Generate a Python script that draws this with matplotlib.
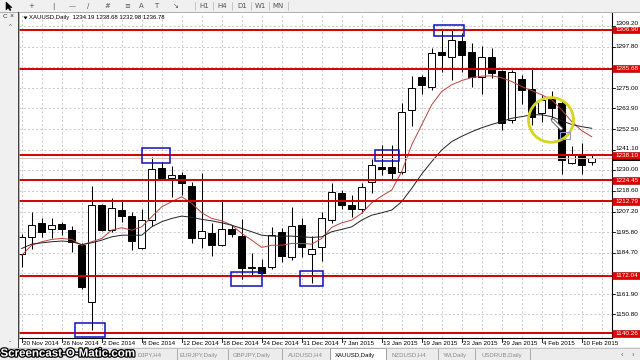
import matplotlib
matplotlib.use('Agg')
import matplotlib.pyplot as plt
from matplotlib.patches import Rectangle, Ellipse, Polygon
from matplotlib.lines import Line2D
import matplotlib.patheffects as pe

# ---------------- data ----------------
opens = [1184.0, 1193.0, 1201.0, 1197.4, 1200.3, 1197.0, 1188.7, 1157.6, 1211.0, 1197.0,
         1208.0, 1204.7, 1187.0, 1202.5, 1230.9, 1225.5, 1227.0, 1221.4, 1192.8, 1195.2,
         1188.7, 1197.5, 1193.7, 1176.0, 1176.5, 1176.8, 1195.7, 1182.3, 1199.6, 1184.0,
         1187.5, 1202.5, 1217.5, 1210.7, 1208.4, 1223.6, 1231.8, 1231.8, 1229.0, 1263.0,
         1280.8, 1275.5, 1294.7, 1292.0, 1300.6, 1294.7, 1281.0, 1292.0, 1284.5, 1257.5,
         1280.0, 1274.4, 1261.5, 1269.0, 1266.7, 1234.0, 1238.3, 1234.19]
highs = [1195.0, 1207.0, 1203.5, 1203.4, 1201.5, 1199.0, 1189.7, 1221.0, 1211.5, 1214.4,
         1213.0, 1207.0, 1208.5, 1237.0, 1234.5, 1232.0, 1229.0, 1223.5, 1228.2, 1201.0,
         1213.5, 1199.7, 1203.0, 1184.5, 1181.0, 1198.8, 1198.0, 1209.8, 1203.4, 1194.0,
         1207.0, 1223.0, 1219.0, 1216.0, 1223.0, 1236.0, 1243.8, 1243.8, 1266.7, 1281.7,
         1282.0, 1297.0, 1307.0, 1307.5, 1305.0, 1299.7, 1298.0, 1297.0, 1285.0, 1285.0,
         1282.3, 1285.4, 1271.3, 1273.6, 1268.0, 1243.2, 1245.0, 1238.68]
lows = [1176.8, 1186.5, 1193.0, 1192.4, 1194.2, 1185.0, 1164.9, 1142.0, 1196.5, 1196.0,
        1201.6, 1186.0, 1186.5, 1199.0, 1224.5, 1215.3, 1216.0, 1190.0, 1187.0, 1183.0,
        1188.0, 1193.3, 1170.4, 1172.0, 1173.0, 1175.4, 1179.6, 1180.5, 1182.3, 1168.0,
        1180.0, 1201.0, 1208.4, 1204.3, 1206.5, 1217.2, 1227.3, 1225.0, 1228.0, 1254.0,
        1271.8, 1274.0, 1284.0, 1279.5, 1284.0, 1275.8, 1272.0, 1280.5, 1252.0, 1256.0,
        1266.0, 1254.8, 1256.6, 1258.4, 1227.8, 1233.5, 1228.0, 1232.98]
closes = [1193.3, 1200.0, 1196.0, 1199.7, 1197.4, 1190.6, 1165.8, 1210.7, 1197.0, 1209.0,
          1204.7, 1191.1, 1202.5, 1230.4, 1225.8, 1227.0, 1222.7, 1192.4, 1196.4, 1188.7,
          1197.5, 1194.8, 1176.0, 1176.5, 1173.7, 1194.2, 1182.7, 1199.4, 1187.5, 1186.5,
          1203.8, 1217.7, 1210.7, 1208.4, 1220.5, 1232.8, 1230.4, 1228.2, 1262.0, 1275.0,
          1276.4, 1294.2, 1292.9, 1301.5, 1293.3, 1281.0, 1292.0, 1283.0, 1256.0, 1284.0,
          1274.0, 1259.3, 1268.5, 1264.0, 1235.5, 1238.0, 1232.8, 1236.78]

ma_fast = [1183.2, 1188.7, 1190.6, 1191.9, 1192.4, 1191.9, 1188.7, 1190.6, 1192.4, 1197.0,
           1198.3, 1197.0, 1198.8, 1204.3, 1209.8, 1212.6, 1215.3, 1211.7, 1206.5, 1203.4,
           1202.1, 1199.7, 1195.2, 1191.5, 1187.5, 1188.7, 1188.7, 1189.7, 1189.7, 1189.3,
           1192.4, 1198.5, 1201.0, 1202.5, 1206.2, 1212.0, 1215.7, 1219.0, 1229.1, 1243.8,
           1254.8, 1265.8, 1273.1, 1276.8, 1279.1, 1280.8, 1281.5, 1281.7, 1280.6, 1278.6,
           1275.8, 1273.6, 1271.3, 1268.5, 1263.0, 1256.6, 1251.6, 1248.3]
ma_slow = [1186.9, 1189.3, 1190.0, 1190.6, 1191.0, 1190.6, 1189.1, 1190.0, 1191.5, 1193.3,
           1194.2, 1194.2, 1194.2, 1198.8, 1201.6, 1203.4, 1204.7, 1204.0, 1202.9, 1202.1,
           1201.0, 1199.7, 1197.9, 1196.1, 1194.2, 1193.7, 1193.7, 1193.7, 1193.3, 1193.0,
           1193.3, 1196.1, 1197.4, 1198.8, 1202.5, 1205.2, 1206.5, 1208.0, 1212.6, 1219.9,
           1227.8, 1234.6, 1241.0, 1245.6, 1248.5, 1251.0, 1253.2, 1255.0, 1256.6, 1258.4,
           1259.3, 1260.3, 1260.3, 1259.3, 1257.0, 1255.0, 1253.8, 1252.9]

date_tick_pos = [0, 4, 8, 12, 16, 20, 24, 28, 32, 36, 40, 44, 48, 52, 56]
date_tick_labels = ["20 Nov 2014", "26 Nov 2014", "2 Dec 2014", "8 Dec 2014", "12 Dec 2014",
                    "18 Dec 2014", "24 Dec 2014", "31 Dec 2014", "7 Jan 2015", "13 Jan 2015",
                    "19 Jan 2015", "23 Jan 2015", "29 Jan 2015", "4 Feb 2015", "10 Feb 2015"]

price_grid = [1309.20, 1297.80, 1286.40, 1275.00, 1263.90, 1252.50, 1241.10, 1230.00,
              1218.60, 1207.20, 1195.80, 1184.70, 1173.30, 1161.90, 1150.80]
price_labels = [1309.20, 1297.80, 1275.00, 1263.90, 1252.50, 1241.10, 1230.00,
                1218.60, 1207.20, 1195.80, 1184.70, 1161.90, 1150.80]
red_levels = [1306.90, 1285.68, 1238.10, 1224.45, 1212.79, 1172.04, 1140.26]
bid_price = 1236.78

# blue boxes: (left bar, right bar, low price, high price)
blue_boxes = [(5.35, 8.3, 1138.5, 1146.0), (12.0, 14.85, 1233.9, 1242.0),
              (20.9, 24.05, 1166.3, 1174.2), (27.85, 30.15, 1166.3, 1174.6),
              (35.3, 37.75, 1235.0, 1241.0), (41.2, 44.25, 1303.3, 1309.8)]

title_text = "XAUUSD,Daily  1234.19 1238.68 1232.98 1236.78"
tabs = [("DJPY,H4", 138), ("EURJPY,Daily", 180), ("GBPJPY,Daily", 233),
        ("AUDUSD,H4", 288), ("XAUUSD,Daily", 335), ("NZDUSD,H4", 392),
        ("YM,Daily", 443), ("USDRUB,Daily", 482)]
active_tab = "XAUUSD,Daily"

# ---------------- layout ----------------
W, H = 640, 360
L, R, T, B = 19, 612, 13, 338
XMIN, XMAX = -0.27, 59.03
YMIN, YMAX = 1137.76, 1316.2

SANS = ['Liberation Sans', 'DejaVu Sans']
NARROW = ['Liberation Sans Narrow', 'Liberation Sans', 'DejaVu Sans']

fig = plt.figure(figsize=(6.4, 3.6), dpi=100)
fig.patch.set_facecolor('white')


def p2py(p):
    return T + (YMAX - p) / (YMAX - YMIN) * (B - T)


def i2px(i):
    return L + (i - XMIN) / (XMAX - XMIN) * (R - L)


def rect_px(x0, y0, x1, y1, **kw):
    r = Rectangle((x0 / W, 1 - y1 / H), (x1 - x0) / W, (y1 - y0) / H,
                  transform=fig.transFigure, **kw)
    fig.add_artist(r)
    return r


def line_px(x0, y0, x1, y1, **kw):
    ln = Line2D([x0 / W, x1 / W], [1 - y0 / H, 1 - y1 / H], transform=fig.transFigure, **kw)
    fig.add_artist(ln)
    return ln


def text_px(x, y, s, **kw):
    return fig.text(x / W, 1 - y / H, s, **kw)


# ---------------- chart axes ----------------
ax = fig.add_axes([L / W, 1 - B / H, (R - L) / W, (B - T) / H])
ax.set_facecolor('white')
ax.set_xlim(XMIN, XMAX)
ax.set_ylim(YMIN, YMAX)
ax.set_xticks([])
ax.set_yticks([])
for s in ['top', 'left']:
    ax.spines[s].set_visible(False)
ax.spines['right'].set_color('black')
ax.spines['right'].set_linewidth(0.8)
ax.spines['bottom'].set_color('black')
ax.spines['bottom'].set_linewidth(0.8)

grid_kw = dict(color='#c4c4c4', lw=0.6, linestyles=(0, (2.5, 2.5)), zorder=0)
ax.hlines(price_grid, XMIN, XMAX, **grid_kw)
ax.vlines(list(range(0, 60, 2)), YMIN, YMAX, **grid_kw)

# candles
bw = 0.66
for i, (o, h, l, c) in enumerate(zip(opens, highs, lows, closes)):
    ax.vlines(i, l, h, color='black', lw=0.75, zorder=2)
    lo = min(o, c)
    ht = max(abs(c - o), 0.45)
    fc = 'white' if c >= o else 'black'
    ax.add_patch(Rectangle((i - bw / 2, lo), bw, ht, facecolor=fc, edgecolor='black',
                           lw=0.7, zorder=3))

# moving averages
xs = list(range(len(ma_fast)))
ax.plot(xs, ma_fast, color='#c0413a', lw=0.7, zorder=4)
ax.plot(xs, ma_slow, color='#222222', lw=0.7, zorder=4)

# bid line and red levels
ax.axhline(bid_price, color='#dcc2c2', lw=0.7, zorder=4)
for lv in red_levels:
    ax.axhline(lv, color='#d40000', lw=1.4, zorder=5)

# blue boxes
for (x0, x1, p0, p1) in blue_boxes:
    ax.add_patch(Rectangle((x0, p0), x1 - x0, p1 - p0, fill=False, edgecolor='#1010c0',
                           lw=1.1, zorder=6, clip_on=False))

# yellow circle, small selection box, cursor
ax.add_patch(Ellipse((52.93, 1257.5), 4.5, 24.5, fill=False, edgecolor='#d6d61c', lw=2.0,
                     zorder=7))
ax.add_patch(Rectangle((53.85, 1247.0), 1.0, 3.7, fill=False, edgecolor='#8a9ce0', lw=0.8,
                       zorder=7))
fig.add_artist(Polygon([(551 / W, 1 - 118.5 / H), (554 / W, 1 - 119.5 / H),
                        (563 / W, 1 - 128.5 / H), (561 / W, 1 - 130.5 / H),
                        (552 / W, 1 - 121.5 / H)], closed=True, transform=fig.transFigure,
                       facecolor='white', edgecolor='#505050', lw=0.6, zorder=8))

# ---------------- right price scale ----------------
for p in price_grid:
    py = p2py(p)
    line_px(R, py, R + 3, py, color='black', lw=0.6)
for p in price_labels:
    py = p2py(p)
    if p == 1309.20:
        py -= 2.5
    if p == 1241.10:
        py -= 1.0
    text_px(615, py, f"{p:.2f}", fontsize=4.6, family=SANS, va='center', ha='left',
            color='black')

# current price marker (black) beneath red label
pyb = p2py(bid_price)
rect_px(R, pyb - 3.4, 640, pyb + 3.4, facecolor='black', edgecolor='none', zorder=4)
for lv in red_levels:
    py = p2py(lv)
    rect_px(R, py - 3.4, 640, py + 3.4, facecolor='#e00000', edgecolor='#8a0000', lw=0.4,
            zorder=5)
    text_px(615, py, f"{lv:.2f}", fontsize=4.6, family=SANS, va='center', ha='left',
            color='white', zorder=5.1)

# ---------------- date axis ----------------
for pos, lab in zip(date_tick_pos, date_tick_labels):
    px = i2px(pos)
    line_px(px, B, px, B + 4, color='black', lw=0.6)
    text_px(px + 1.5, 343.5, lab, fontsize=4.5, family=NARROW, va='center', ha='left',
            color='black')

# ---------------- window chrome ----------------
# toolbar
rect_px(0, 0, 640, 12, facecolor='#f0f0f0', edgecolor='none', zorder=-1)
line_px(0, 12, 640, 12, color='#a0a0a0', lw=0.6)
fig.add_artist(Polygon([(6 / W, 1 - 2 / H), (6 / W, 1 - 10 / H), (8 / W, 1 - 8 / H),
                        (10 / W, 1 - 10.5 / H), (11 / W, 1 - 10 / H), (9.5 / W, 1 - 7.5 / H),
                        (12 / W, 1 - 7.5 / H)], closed=True, transform=fig.transFigure,
                       facecolor='black', edgecolor='black', lw=0.4))
tool_glyphs = [("+", 31), ("|", 53), ("—", 72), ("/", 88), ("#", 107), ("≡", 127),
               ("A", 141), ("T", 156), ("↘", 176), ("H1", 204), ("H4", 222), ("D1", 242),
               ("W1", 260), ("MN", 278)]
for g, x in tool_glyphs:
    text_px(x, 6, g, fontsize=5, family=['DejaVu Sans'], ha='center', va='center',
            color='#555555')
for x in [195, 213, 232, 251, 269, 288]:
    line_px(x, 2, x, 10, color='#c0c0c0', lw=0.6)

# left strip
rect_px(0, 12, 17, 347, facecolor='#f0f0f0', edgecolor='none', zorder=-1)
line_px(17.5, 12, 17.5, 347, color='#404040', lw=0.8)
line_px(18.5, 12, 18.5, 338, color='#a0a0a0', lw=0.5)
text_px(3, 16.5, "C", fontsize=4.5, family=SANS, va='center', color='#333333')
text_px(10, 16.5, "×", fontsize=5, family=SANS, va='center', color='#333333')
text_px(10, 27, "^", fontsize=4.5, family=SANS, va='center', ha='center', color='#555555')
text_px(10, 342, "-", fontsize=5, family=SANS, va='center', ha='center', color='#555555')

# title
fig.add_artist(Polygon([(23.5 / W, 1 - 16.5 / H), (27.5 / W, 1 - 16.5 / H),
                        (25.5 / W, 1 - 19.5 / H)], closed=True, transform=fig.transFigure,
                       facecolor='black', edgecolor='none'))
text_px(29, 18, title_text, fontsize=4.3, family=SANS, va='center', ha='left', color='black')

# tab bar
rect_px(0, 347, 640, 360, facecolor='#ececec', edgecolor='none', zorder=-1)
line_px(0, 347.5, 640, 347.5, color='#b0b0b0', lw=0.5)
rect_px(330, 347.5, 386, 361, facecolor='white', edgecolor='#909090', lw=0.6, zorder=1)
for x in [177, 228, 282, 438, 475, 530]:
    line_px(x, 349, x, 360, color='#a0a0a0', lw=0.6)
for name, x in tabs:
    col = 'black' if name == active_tab else '#8a8a8a'
    text_px(x, 355, name, fontsize=4.3, family=SANS, va='center', ha='left', color=col,
            zorder=2)
text_px(622, 355, "‹", fontsize=5.5, family=SANS, va='center', ha='center', color='#606060')
text_px(633, 355, "›", fontsize=5.5, family=SANS, va='center', ha='center', color='#606060')

# watermark
text_px(0.5, 353.5, "Screencast-O-Matic.com", fontsize=8.3, family=SANS, weight='bold',
        va='center', ha='left', color='white', zorder=10,
        path_effects=[pe.withStroke(linewidth=1.8, foreground='black')])

fig.savefig('out.png', dpi=100, facecolor='white')
